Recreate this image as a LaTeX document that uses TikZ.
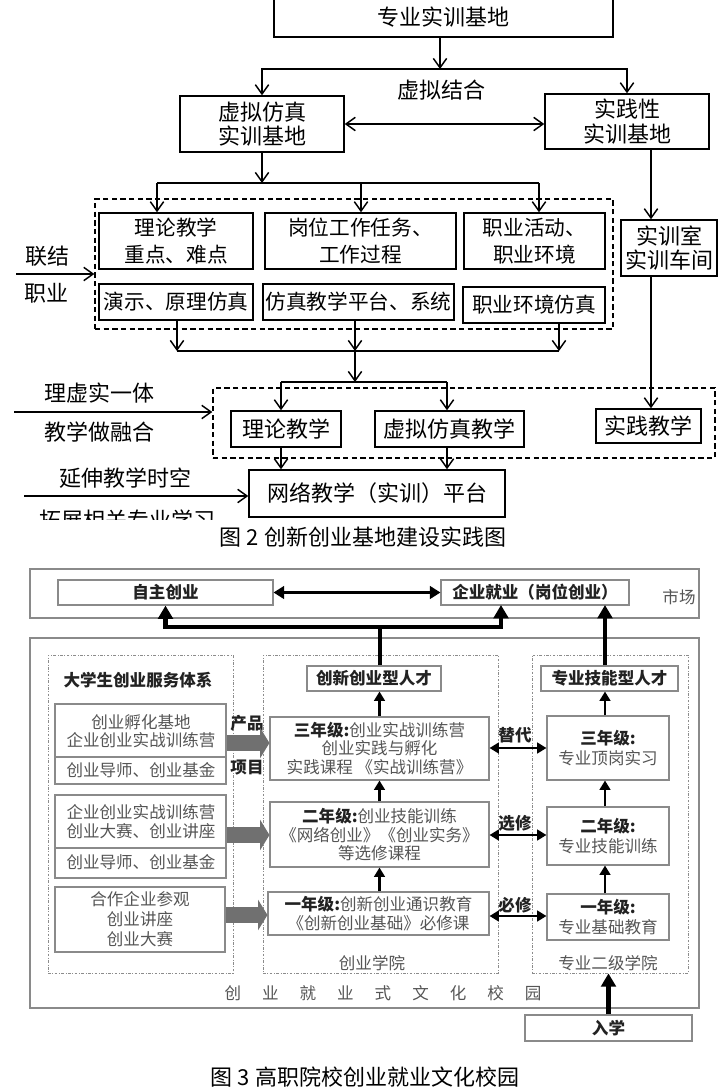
\documentclass[tikz,border=0pt]{standalone}
\usepackage{fontspec}
\setmainfont{Noto Sans CJK SC}
\usetikzlibrary{arrows.meta}
\newcommand\boxat[7]{\node[#2,minimum width={(#5-#3)*0.75pt},minimum height={(#6-#4)*0.75pt}] (#1) at ({(#3+#5)/2},{(#4+#6)/2}) {#7};}
\newcommand\ftop{\fontsize{16.5}{18.5}\selectfont}
\newcommand\fmid{\fontsize{15.5}{20}\selectfont}
\newcommand\fbot{\fontsize{12.4}{13.9}\selectfont}
\definecolor{gborder}{HTML}{8A8A8A}
\definecolor{gtext}{HTML}{555555}
\definecolor{gbold}{HTML}{222222}
\definecolor{gblock}{HTML}{707070}
\tikzset{
  tbox/.style={draw, line width=1.1pt, align=center, inner sep=0pt, font=\ftop},
  mbox/.style={draw, line width=1.1pt, align=center, inner sep=0pt, font=\fmid},
  dbox/.style={draw, line width=1pt, dash pattern=on 4pt off 2.5pt, inner sep=0pt},
  tlbl/.style={font=\ftop, inner sep=0pt},
  tline/.style={line width=1.1pt},
  tarrow/.style={line width=1.1pt, -{Straight Barb[length=7pt,width=10pt]}},
  tarrowd/.style={line width=1.1pt, {Straight Barb[length=7pt,width=10pt]}-{Straight Barb[length=7pt,width=10pt]}},
  bbox/.style={draw=gborder, line width=0.8pt, align=center, inner sep=0pt, font=\fbot, text=gtext},
  bboxb/.style={bbox, font=\fbot\bfseries, text=gbold},
  bdot/.style={draw=black!45, line width=0.6pt, dash pattern=on 2pt off 1.2pt on 0.6pt off 1.2pt, inner sep=0pt},
  blbl/.style={font=\fbot, text=gtext, inner sep=0pt},
  blblb/.style={font=\fbot\bfseries, text=gbold, inner sep=0pt},
  bigarrow/.style={line width=3.6pt, -{Triangle[length=10pt,width=11pt]}},
  bigarrowd/.style={line width=2.4pt, {Triangle[length=8pt,width=9.5pt]}-{Triangle[length=8pt,width=9.5pt]}},
  medarrow/.style={line width=2.2pt, -{Triangle[length=7pt,width=8pt]}},
  medarrowd/.style={line width=2.2pt, {Triangle[length=7pt,width=8pt]}-{Triangle[length=7pt,width=8pt]}},
  blockarrow/.style={line width=12pt, draw=gblock, -{Triangle[length=7pt,width=22.5pt]}},
}
\begin{document}
\begin{tikzpicture}[x=0.75pt,y=-0.75pt]
\clip (0,0) rectangle (724,1089);
\fill[white] (0,0) rectangle (724,1089);
% ================= Figure 2 =================
\boxat{top}{tbox}{274}{-3}{613}{37}{专业实训基地}
\boxat{L}{tbox}{180}{96}{344}{152}{虚拟仿真\\实训基地}
\boxat{R}{tbox}{545}{94}{709}{149}{实践性\\实训基地}
\node[tlbl] (vj) at (441,90) {虚拟结合};
\coordinate (j1) at (440,69);
\draw[tarrow] (top.south -| j1) -- (j1);
\draw[tarrowd] (L.north) |- (j1) -| (R.north);
\draw[tarrowd] (L.east) -- (L.east -| R.west);

\boxat{D1}{dbox}{95}{199}{613}{329}{}
\boxat{a1}{mbox}{99}{213}{253}{269}{理论教学\\重点、难点}
\boxat{a2}{mbox}{265}{213}{456}{269}{岗位工作任务、\\工作过程}
\boxat{a3}{mbox}{464}{213}{605}{269}{职业活动、\\职业环境}
\boxat{b1}{mbox}{99}{284}{253}{320}{演示、原理仿真}
\boxat{b2}{mbox}{263}{284}{454}{320}{仿真教学平台、系统}
\boxat{b3}{mbox}{463}{287}{605}{323}{职业环境仿真}
\boxat{S}{tbox}{621}{220}{717}{276}{实训室\\实训车间}

\boxat{D2}{dbox}{213}{388}{715}{458}{}
\boxat{T1}{tbox}{231}{411}{341}{447}{理论教学}
\boxat{T2}{tbox}{375}{411}{524}{447}{虚拟仿真教学}
\boxat{P}{tbox}{596}{409}{701}{443}{实践教学}
\boxat{N}{tbox}{249}{470}{505}{517}{网络教学（实训）平台}

\coordinate (j2) at (361,183);
\coordinate (h2l) at (157,183);
\coordinate (h2r) at (539,183);
\draw[tarrow] (L.south) -- (L.south |- j2);
\draw[tline] (h2l) -- (h2r);
\draw[tarrow] (h2l) -- (h2l |- a1.north);
\draw[tarrow] (j2) -- (j2 |- a2.north);
\draw[tarrow] (h2r) -- (h2r |- a3.north);

\coordinate (vR) at (651,149);
\draw[tarrow] (vR) -- (vR |- S.north);
\draw[tarrow] (vR |- S.south) -- (vR |- P.north);

\coordinate (h3l) at (177,351);
\coordinate (h3m) at (355,351);
\coordinate (h3r) at (559,351);
\draw[tarrow] (h3l |- b1.south) -- (h3l);
\draw[tarrow] (h3m |- b2.south) -- (h3m);
\draw[tarrow] (h3r |- b3.south) -- (h3r);
\draw[tline] (h3l) -- (h3r);
\coordinate (j4) at (355,382);
\draw[tarrow] (h3m) -- (j4);
\coordinate (h4l) at (281,382);
\coordinate (h4r) at (447,382);
\draw[tline] (h4l) -- (h4r);
\draw[tarrow] (h4l) -- (h4l |- T1.north);
\draw[tarrow] (h4r) -- (h4r |- T2.north);
\draw[tarrow] (h4l |- T1.south) -- (h4l |- N.north);
\draw[tarrow] (h4r |- T2.south) -- (h4r |- N.north);

\coordinate (i1) at (16,274);
\coordinate (i2) at (14,412);
\coordinate (i3) at (24,496);
\draw[tarrow] (i1) -- (i1 -| D1.west);
\draw[tarrow] (i2) -- (i2 -| D2.west);
\draw[tarrow] (i3) -- (i3 -| N.west);
\node[tlbl] (t1) at (48,256) {联结};
\node[tlbl] (t2) at (46,293) {职业};
\node[tlbl] (t3) at (99,393) {理虚实一体};
\node[tlbl] (t4) at (99,432) {教学做融合};
\node[tlbl] (t5) at (125,478) {延伸教学时空};
\begin{scope}
\clip (0,0) rectangle (724,519);
\node[tlbl] (t6) at (127,520) {拓展相关专业学习};
\end{scope}
\node[tlbl] (cap2) at (363,537) {图 2 创新创业基地建设实践图};

% ================= Figure 3 =================
\boxat{MK}{bbox}{30}{569}{699}{618}{}
\boxat{ZZ}{bboxb}{58}{580}{273}{605}{自主创业}
\boxat{QY}{bboxb}{441}{580}{629}{605}{企业就业（岗位创业）}
\node[blbl] (sc) at (679,597) {市场};
\draw[bigarrowd] (ZZ.east) -- (QY.west);

\boxat{CP}{bbox}{30}{638}{699}{1008}{}
\boxat{DL}{bdot}{48}{655}{233}{973}{}
\boxat{DM}{bdot}{263}{655}{498}{973}{}
\boxat{DR}{bdot}{532}{655}{688}{973}{}
\node[blblb] (fw) at (138,680) {大学生创业服务体系};
\boxat{CX}{bboxb}{307}{666}{441}{691}{创新创业型人才}
\boxat{ZJ}{bboxb}{541}{666}{678}{691}{专业技能型人才}

\coordinate (jb) at (380,627);
\coordinate (qa) at (501,605);
\coordinate (qb) at (605,605);
\draw[bigarrow] (CX.north -| jb) -- (jb) -| (ZZ.south);
\draw[bigarrow] (jb) -| (qa);
\draw[bigarrow] (ZJ.north -| qb) -- (qb);

% left service groups
\boxat{G1}{bbox}{55}{704}{226}{784}{}
\draw[draw=gborder, line width=0.8pt] (G1.west |- 0,757) -- (G1.east |- 0,757);
\node[blbl, align=center] (g1a) at (141,731) {创业孵化基地\\企业创业实战训练营};
\node[blbl] (g1b) at (141,770) {创业导师、创业基金};

\boxat{G2}{bbox}{55}{795}{226}{878}{}
\draw[draw=gborder, line width=0.8pt] (G2.west |- 0,848) -- (G2.east |- 0,848);
\node[blbl, align=center] (g2a) at (141,821.5) {企业创业实战训练营\\创业大赛、创业讲座};
\node[blbl] (g2b) at (141,862) {创业导师、创业基金};

\boxat{G3}{bbox, font=\fontsize{12.4}{15}\selectfont}{55}{887}{225}{952}{合作企业参观\\创业讲座\\创业大赛}

\node[blblb] (cp1) at (247,723) {产品};
\node[blblb] (cp2) at (247,768) {项目};

% middle
\boxat{M3}{bbox, font=\fontsize{12.4}{13.9}\selectfont}{270}{717}{489}{780}{{\bfseries\color{gbold}三年级:}创业实战训练营\\创业实践与孵化\\实践课程 《实战训练营》}
\boxat{M2}{bbox, font=\fontsize{12.4}{14.2}\selectfont}{270}{802}{489}{867}{{\bfseries\color{gbold}二年级:}创业技能训练\\《网络创业》《创业实务》\\等选修课程}
\boxat{M1}{bbox, font=\fontsize{12.4}{14.2}\selectfont}{268}{892}{489}{935}{{\bfseries\color{gbold}一年级:}创新创业通识教育\\《创新创业基础》必修课}

% right
\boxat{R3}{bbox, font=\fontsize{12.4}{15}\selectfont}{547}{716}{669}{780}{{\bfseries\color{gbold}三年级:}\\专业顶岗实习}
\boxat{R2}{bbox, font=\fontsize{12.4}{15}\selectfont}{547}{807}{669}{865}{{\bfseries\color{gbold}二年级:}\\专业技能训练}
\boxat{R1}{bbox, font=\fontsize{12.4}{15}\selectfont}{547}{894}{669}{940}{{\bfseries\color{gbold}一年级:}\\专业基础教育}

% block arrows
\draw[blockarrow] (G1.east |- 0,743) -- (M3.west |- 0,743);
\draw[blockarrow] (G2.east |- 0,835) -- (M2.west |- 0,835);
\draw[blockarrow] (G3.east |- 0,915) -- (M1.west |- 0,915);

% vertical arrows
\draw[medarrow] (M3.north) -- (M3.north |- CX.south);
\draw[medarrow] (M2.north) -- (M2.north |- M3.south);
\draw[medarrow] (M1.north -| M2.north) -- (M2.south);
\coordinate (rv) at (605,700);
\draw[medarrow] (rv |- R3.north) -- (rv |- ZJ.south);
\draw[medarrow] (rv |- R2.north) -- (rv |- R3.south);
\draw[medarrow] (rv |- R1.north) -- (rv |- R2.south);

% double arrows
\draw[medarrowd] (M3.east |- 0,748) -- (R3.west |- 0,748);
\draw[medarrowd] (M2.east |- 0,835) -- (R2.west |- 0,835);
\draw[medarrowd] (M1.east |- 0,916) -- (R1.west |- 0,916);
\node[blblb] (l1) at (515,735) {替代};
\node[blblb] (l2) at (515,823) {选修};
\node[blblb] (l3) at (515,905) {必修};

\node[blbl] (xy1) at (372,963) {创业学院};
\node[blbl] (xy2) at (608,963) {专业二级学院};
\node[blbl] (camp) at (383,993) {创\hspace{15.75pt}业\hspace{15.75pt}就\hspace{15.75pt}业\hspace{15.75pt}式\hspace{15.75pt}文\hspace{15.75pt}化\hspace{15.75pt}校\hspace{15.75pt}园};

\boxat{RX}{bboxb}{525}{1015}{692}{1041}{入学}
\draw[bigarrow] (RX.north) -- (RX.north |- DR.south);

\node[tlbl] (cap3) at (365,1077) {图 3 高职院校创业就业文化校园};
\end{tikzpicture}
\end{document}
